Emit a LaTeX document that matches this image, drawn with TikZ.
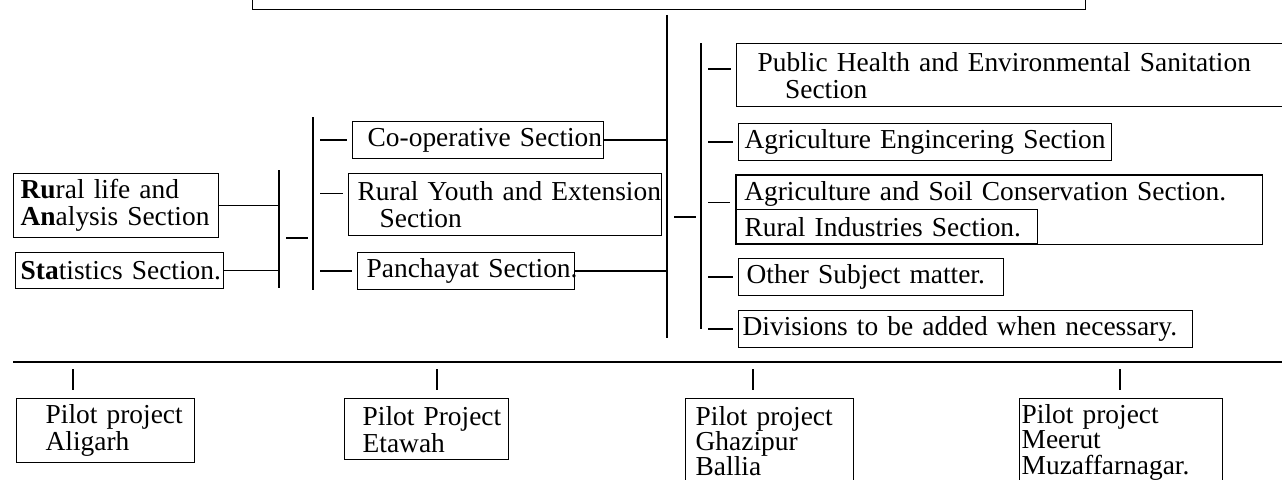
\documentclass[tikz,border=0pt]{standalone}
\usepackage{fontspec}
\setmainfont{Liberation Serif}
\usetikzlibrary{fit}

\begin{document}
\begin{tikzpicture}[x=0.02cm,y=-0.02cm,
    txt/.style={anchor=north west,align=left,font=\fontsize{15.6}{15.4}\selectfont,
      execute at begin node={\hyphenpenalty=10000 \exhyphenpenalty=10000 }},
    box/.style={txt,draw,line width=0.8pt},
    bus/.style={line width=1.1pt},
    tie/.style={line width=0.8pt,shorten <=0.14cm,shorten >=0.1cm}]
  \useasboundingbox (0,0) rectangle (1282,480);

  % head of the chart, cut off at the top edge
  \node[draw,line width=0.8pt,anchor=south west,minimum width=16.66cm,minimum height=0.8cm] (head) at (252,10) {};

  % left sections
  \node[box,inner xsep=0.14cm,text width=3.82cm,minimum height=1.28cm] (rural) at (13,173) {\textbf{Ru}ral life and\\\textbf{An}alysis~Section};
  \node[box,inner xsep=0.1cm,text width=3.96cm,minimum height=0.72cm] (stat) at (15,252) {\textbf{Sta}tistics~Section.};
  \node[box,inner xsep=0.3cm,text width=4.42cm,minimum height=0.74cm] (coop) at (352,121) {Co-operative~Section};
  \node[box,inner xsep=0.18cm,text width=5.9cm,minimum height=1.24cm] (youth) at (348,173) {Rural~Youth~and~Extension\\\hspace*{0.8em}Section};
  \node[box,inner xsep=0.18cm,text width=3.98cm,minimum height=0.7cm] (panch) at (357,252) {Panchayat~Section.};

  % right sections
  \node[box,inner xsep=0.42cm,text width=10.24cm,minimum height=1.26cm] (ph) at (736,43) {\makebox[10.2cm][s]{Public Health and Environmental Sanitation}\\\hspace*{1em}Section};
  \node[box,inner xsep=0.12cm,text width=7.22cm,minimum height=0.7cm] (agreng) at (738,123) {Agriculture~Engincering~Section};
  \node[txt,inner xsep=0.16cm,text width=10.2cm,minimum height=0.68cm] (agrsoil) at (736,175) {\makebox[10.16cm][s]{Agriculture and Soil Conservation Section.}};
  \node[box,inner xsep=0.16cm,text width=5.7cm,minimum height=0.68cm] (indus) at (736,209) {Rural~Industries~Section.};
  \node[draw,line width=0.8pt,fit=(agrsoil)(indus),inner sep=0pt] (agrgrp) {};
  \node[box,inner xsep=0.16cm,text width=4.98cm,minimum height=0.74cm] (other) at (738,258) {Other~Subject~matter.};
  \node[box,inner xsep=0.08cm,text width=8.92cm,minimum height=0.74cm] (divs) at (738,310) {Divisions~to~be~added~when~necessary.};

  % pilot projects (the last two run past the bottom edge)
  \node[box,inner xsep=0.58cm,text width=2.4cm,minimum height=1.22cm] (pAli) at (16,398) {Pilot~project\\Aligarh};
  \node[box,inner xsep=0.36cm,text width=2.56cm,minimum height=1.22cm] (pEta) at (344,398) {Pilot~Project\\Etawah};
  \node[box,inner xsep=0.2cm,text width=2.96cm,minimum height=1.7cm,font=\fontsize{15.6}{14.4}\selectfont] (pGha) at (685,398) {Pilot~project\\Ghazipur\\Ballia};
  \node[box,inner xsep=0.04cm,text width=3.98cm,minimum height=1.7cm,font=\fontsize{15.6}{14.4}\selectfont] (pMee) at (1019,398) {Pilot~project\\Meerut\\Muzaffarnagar.};

  % bus lines
  \coordinate (busA) at (279,170);
  \coordinate (busB) at (313,117);
  \coordinate (trunk) at (667,15);
  \coordinate (trunkEnd) at (667,338);
  \coordinate (busR) at (701,43);
  \coordinate (base) at (13,362);
  \draw[bus] (busA) -- ++(0,118);
  \draw[bus] (busB) -- ++(0,173);
  \draw[bus,shorten <=0.1cm] (head.south -| trunk) -- (trunkEnd);
  \draw[bus] (busR) -- (busR |- divs.west);
  \draw[bus] (base) -- ++(1269,0);

  % left side links
  \draw[line width=0.8pt] (rural.east) -- (rural.east -| busA);
  \draw[line width=0.8pt] (stat.east) -- (stat.east -| busA);
  \coordinate (jA) at (279,238);
  \draw[tie] (jA) -- (jA -| busB);
  \draw[tie] (coop.west -| busB) -- (coop.west);
  \coordinate (yw) at ([yshift=0.22cm]youth.west);
  \draw[tie] (yw -| busB) -- (yw);
  \draw[tie] (panch.west -| busB) -- (panch.west);
  \draw[line width=0.8pt] (coop.east) -- (coop.east -| trunk);
  \draw[line width=0.8pt] (panch.east) -- (panch.east -| trunk);

  % right side links
  \coordinate (jR) at (667,217);
  \draw[tie] (jR) -- (jR -| busR);
  \coordinate (phw) at ([yshift=0.12cm]ph.west);
  \draw[tie] (phw -| busR) -- (phw);
  \draw[tie] (agreng.west -| busR) -- (agreng.west);
  \coordinate (agw) at ([yshift=0.14cm]agrgrp.west);
  \draw[tie] (agw -| busR) -- (agw);
  \draw[tie] (other.west -| busR) -- (other.west);
  \draw[tie] (divs.west -| busR) -- (divs.west);

  % pilot project drops
  \coordinate (d1) at (73,362);
  \coordinate (d2) at (437,362);
  \coordinate (d3) at (753,362);
  \coordinate (d4) at (1120,362);
  \draw[tie,shorten >=0.16cm] (d1) -- (d1 |- pAli.north);
  \draw[tie,shorten >=0.16cm] (d2) -- (d2 |- pEta.north);
  \draw[tie,shorten >=0.16cm] (d3) -- (d3 |- pGha.north);
  \draw[tie,shorten >=0.16cm] (d4) -- (d4 |- pMee.north);
\end{tikzpicture}
\end{document}
